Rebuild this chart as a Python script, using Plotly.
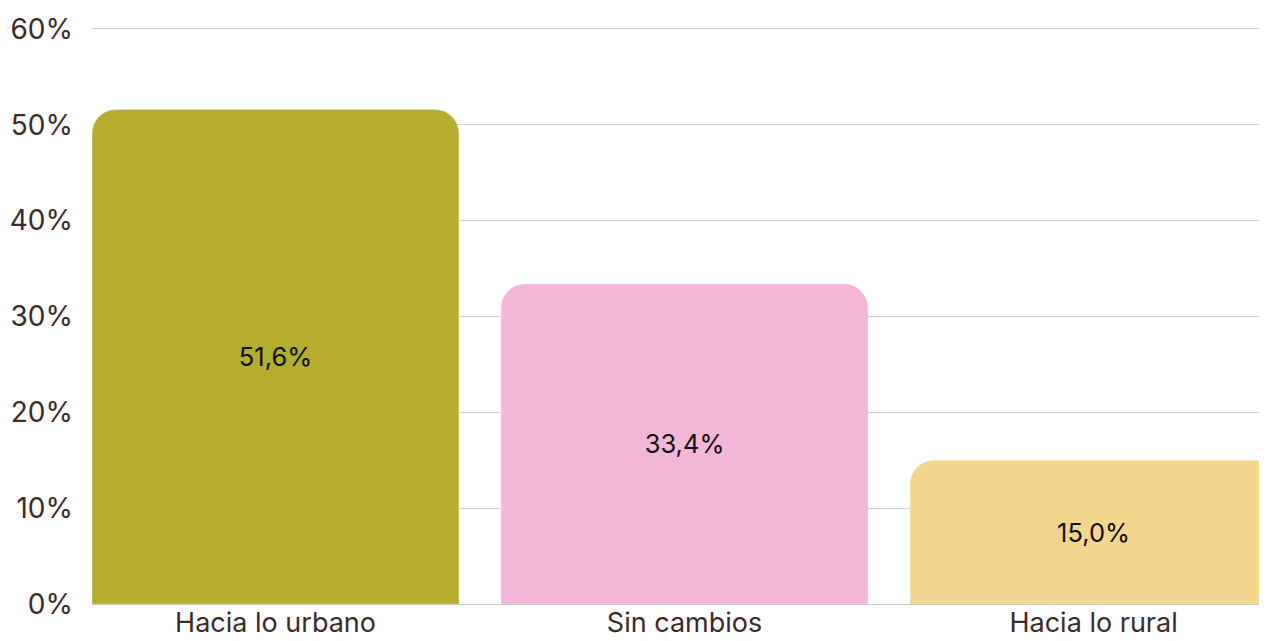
import plotly.graph_objects as go

categorias = ["Hacia lo urbano", "Sin cambios", "Hacia lo rural"]
valores = [51.6, 33.4, 15.0]
colores = ["#b4ad2e", "#f4b6d6", "#f3d68e"]
ticks_y = [0, 10, 20, 30, 40, 50, 60]
ticks_texto = ["0%", "10%", "20%", "30%", "40%", "50%", "60%"]

fig = go.Figure(
    go.Bar(
        x=categorias,
        y=valores,
        marker_color=colores,
        texttemplate="%{y:.1f}%",
        textposition="inside",
        insidetextanchor="middle",
        textfont=dict(color="#111111", size=25.5),
        hoverinfo="skip",
    )
)
fig.update_yaxes(
    range=[0, 60.31],
    tickvals=ticks_y,
    ticktext=ticks_texto,
    gridcolor="#d4d2d2",
    gridwidth=1,
    zeroline=False,
    showline=False,
    tickfont=dict(size=28, color="#3d2a2a"),
    ticklabelstandoff=18,
    automargin=False,
)
fig.update_xaxes(
    range=[-0.4487, 2.424],
    showline=True,
    linecolor="#c8c6c6",
    linewidth=1,
    tickfont=dict(size=27, color="#3d2a2a"),
    ticks="",
    ticklabelstandoff=-5,
    automargin=False,
)
# la página añade 8 px de margen, por eso el lienzo es algo menor
fig.update_layout(
    width=1259,
    height=633,
    bargap=0.1027,
    barcornerradius=24,
    separators=",.",
    font=dict(family="Inter, Lato, sans-serif"),
    plot_bgcolor="white",
    paper_bgcolor="white",
    showlegend=False,
    margin=dict(l=84, r=0, t=18, b=37),
)
fig.write_html("out.html")
